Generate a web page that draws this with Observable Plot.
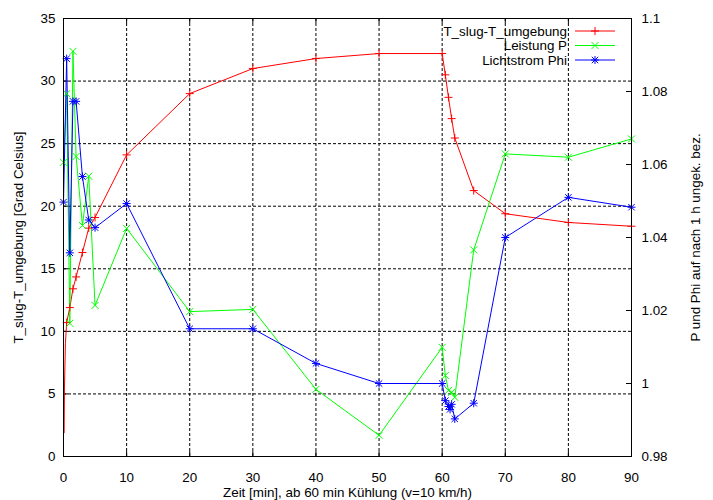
<!DOCTYPE html>
<html><head><meta charset="utf-8">
<script src="https://cdn.jsdelivr.net/npm/d3@7"></script>
<script src="https://cdn.jsdelivr.net/npm/@observablehq/plot@0.6"></script>
<style>body{margin:0;background:#fff} svg{display:block}</style>
</head><body><div id="chart"></div><script>
// ---- data ----
const xTicks = [0,10,20,30,40,50,60,70,80,90];
const yTicks = [0,5,10,15,20,25,30,35];
const y2Ticks = [0.98,1.0,1.02,1.04,1.06,1.08,1.1];
const y2Labels = ["0.98","1","1.02","1.04","1.06","1.08","1.1"];

const seriesNames = ["T_slug-T_umgebung","Leistung P","Lichtstrom Phi"];
const seriesColors = ["#ff0000","#00ff00","#0000ff"];

// first readings of the temperature difference (line only)
const tempLeadTime = [0.1, 0.15, 0.3];
const tempLeadValue = [1.9, 5.4, 9.0];

const tempTime  = [0.5,1,1.5,2,3,4,5,10,20,30,40,50,60,60.5,61,61.5,62,65,70,80,90];
const tempValue = [10.7,11.9,13.4,14.35,16.3,18.25,19.1,24.1,29.0,31.0,31.8,32.2,32.2,30.5,28.7,27.0,25.45,21.25,19.4,18.7,18.4];

const powerTime  = [0,0.5,1,1.5,2,3,4,5,10,20,30,40,50,60,60.5,61,61.5,62,65,70,80,90];
const powerValue = [1.0606,1.0794,1.0165,1.091,1.0622,1.0433,1.0568,1.0214,1.0425,1.0197,1.0203,0.9984,0.9858,1.0099,1.0022,0.9981,0.9976,0.9962,1.0366,1.0629,1.062,1.067];

const fluxTime  = [0,0.5,1,1.5,2,3,4,5,10,20,30,40,50,60,60.5,61,61.25,61.5,62,65,70,80,90];
const fluxValue = [1.0497,1.089,1.0358,1.0773,1.0773,1.0567,1.0448,1.0427,1.0493,1.015,1.015,1.0055,1.0,1.0,0.9953,0.9937,0.9929,0.9943,0.9903,0.9946,1.04,1.051,1.0483];

// ---- helpers ----
const yMax = 35, y2Min = 0.98, y2Max = 1.1;
const toLeft = v => (v - y2Min) / (y2Max - y2Min) * yMax;
const zip = (t, v) => t.map((x, i) => ({t: x, v: v[i]}));

const temp = zip(tempTime, tempValue);
const tempLine = zip(tempLeadTime, tempLeadValue).concat(temp);
const power = zip(powerTime, powerValue);
const flux = zip(fluxTime, fluxValue);

const symPlus = {draw(c, s){const r=Math.sqrt(s/Math.PI); c.moveTo(-r,0); c.lineTo(r,0); c.moveTo(0,-r); c.lineTo(0,r);}};
const symTimes = {draw(c, s){const r=Math.sqrt(s/Math.PI); c.moveTo(-r,-r); c.lineTo(r,r); c.moveTo(-r,r); c.lineTo(r,-r);}};
const symStar = {draw(c, s){const r=Math.sqrt(s/Math.PI); const q=r*0.8; c.moveTo(-r,0); c.lineTo(r,0); c.moveTo(0,-r); c.lineTo(0,r); c.moveTo(-q,-q); c.lineTo(q,q); c.moveTo(-q,q); c.lineTo(q,-q);}};
const symbols = [symPlus, symTimes, symStar];
const symR = [4, 3.5, 4];

const W = 713, H = 500, mL = 63, mR = 82, mT = 18, mB = 44;
const innerW = W - mL - mR, innerH = H - mT - mB;
const font = "'Liberation Sans', Arial, Helvetica, sans-serif";
const fs = 13.4;
const dash = "3,2";

const chart = Plot.plot({
  width: W, height: H,
  marginLeft: mL, marginRight: mR, marginTop: mT, marginBottom: mB,
  style: {fontFamily: font, fontSize: fs + "px", background: "white", color: "black"},
  x: {domain: [0, 90], axis: null},
  y: {domain: [0, yMax], axis: null},
  marks: [
    // grid
    Plot.ruleX(xTicks.slice(1, -1), {x: d => d, stroke: "black", strokeDasharray: dash, strokeWidth: 1}),
    Plot.ruleY(yTicks.slice(1, -1), {y: d => d, stroke: "black", strokeDasharray: dash, strokeWidth: 1}),
    // inward tick marks
    Plot.tickX(xTicks, {x: d => d, insetTop: innerH - 5, stroke: "black"}),
    Plot.tickX(xTicks, {x: d => d, insetBottom: innerH - 5, stroke: "black"}),
    Plot.tickY(yTicks, {y: d => d, insetRight: innerW - 5, stroke: "black"}),
    Plot.tickY(y2Ticks, {y: d => toLeft(d), insetLeft: innerW - 5, stroke: "black"}),
    // series lines
    Plot.line(tempLine, {x: "t", y: "v", stroke: seriesColors[0], strokeWidth: 1}),
    Plot.line(power, {x: "t", y: d => toLeft(d.v), stroke: seriesColors[1], strokeWidth: 1}),
    Plot.line(flux, {x: "t", y: d => toLeft(d.v), stroke: seriesColors[2], strokeWidth: 1}),
    // markers
    Plot.dot(temp, {x: "t", y: "v", symbol: symbols[0], r: symR[0], stroke: seriesColors[0], fill: "none", strokeWidth: 1}),
    Plot.dot(power, {x: "t", y: d => toLeft(d.v), symbol: symbols[1], r: symR[1], stroke: seriesColors[1], fill: "none", strokeWidth: 1}),
    Plot.dot(flux, {x: "t", y: d => toLeft(d.v), symbol: symbols[2], r: symR[2], stroke: seriesColors[2], fill: "none", strokeWidth: 1}),
    // axes
    Plot.axisX({ticks: xTicks, tickSize: 0, tickPadding: 16, label: null, tickFormat: d => String(d)}),
    Plot.axisY({anchor: "left", ticks: yTicks, tickSize: 0, tickPadding: 8, label: null, tickFormat: d => String(d)}),
    Plot.axisY({anchor: "right", ticks: y2Ticks.map(toLeft), tickSize: 0, tickPadding: 10, label: null,
      tickFormat: d => y2Labels[y2Ticks.findIndex(v => Math.abs(toLeft(v) - d) < 1e-6)]}),
    // axis titles
    Plot.text(["T_slug-T_umgebung [Grad Celsius]"], {text: d => d, frameAnchor: "left", dx: -45, rotate: -90, textAnchor: "middle", lineAnchor: "middle", fontSize: fs}),
    Plot.text(["P und Phi auf nach 1 h ungek. bez."], {text: d => d, frameAnchor: "right", dx: 64, rotate: -90, textAnchor: "middle", lineAnchor: "middle", fontSize: fs}),
    Plot.text(["Zeit [min], ab 60 min Kühlung (v=10 km/h)"], {text: d => d, frameAnchor: "bottom", dy: 36, textAnchor: "middle", lineAnchor: "middle", fontSize: fs}),
    Plot.frame({stroke: "black", strokeWidth: 1})
  ]
});

// legend (top right, inside the frame)
const svg = d3.select(chart);
const lg = svg.append("g").attr("font-family", font).attr("font-size", fs);
seriesNames.forEach((name, i) => {
  const y = 31 + i * 14.5;
  lg.append("text").attr("x", 567).attr("y", y).attr("dy", "0.35em")
    .attr("text-anchor", "end").attr("fill", "black").text(name);
  lg.append("line").attr("x1", 575).attr("x2", 615).attr("y1", y).attr("y2", y)
    .attr("stroke", seriesColors[i]).attr("stroke-width", 1);
  const p = d3.path();
  symbols[i].draw(p, Math.PI * symR[i] * symR[i]);
  lg.append("path").attr("d", p.toString()).attr("transform", `translate(595,${y})`)
    .attr("stroke", seriesColors[i]).attr("fill", "none").attr("stroke-width", 1);
});

document.getElementById("chart").appendChild(chart);
</script></body></html>
